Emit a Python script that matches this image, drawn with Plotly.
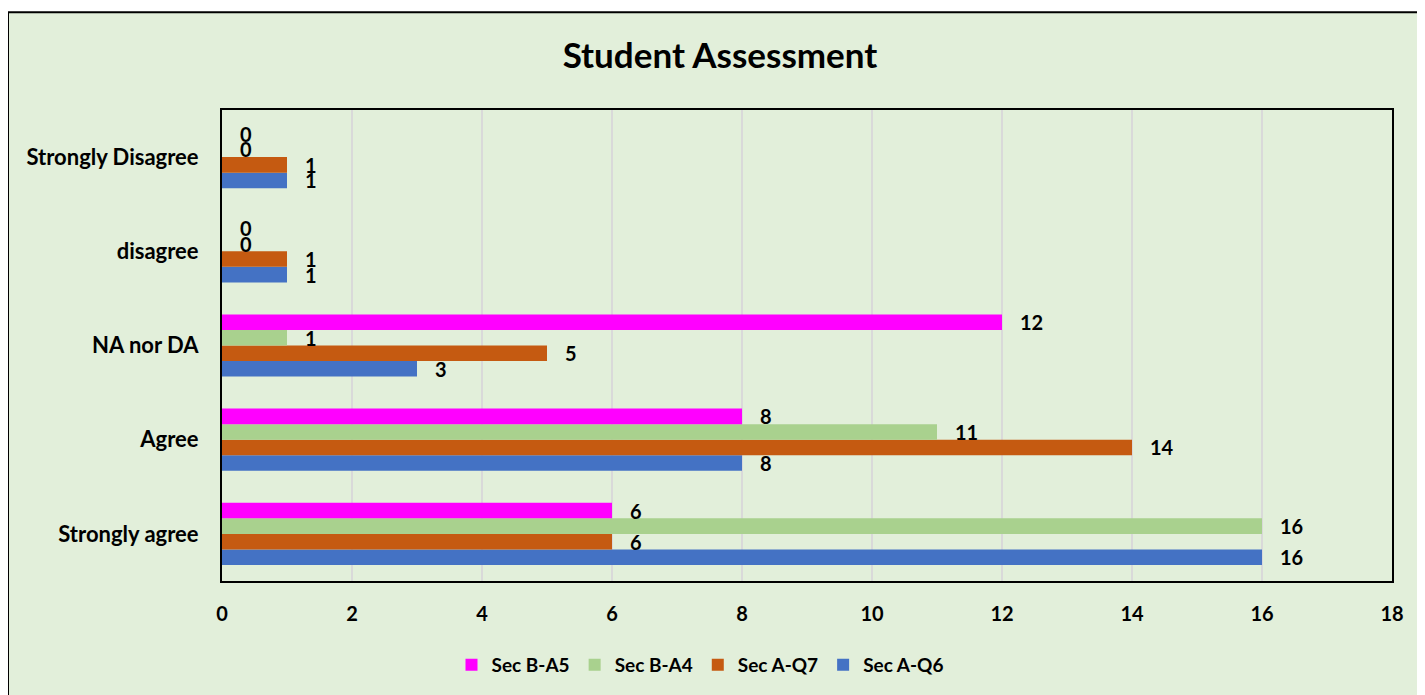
import plotly.graph_objects as go

categories = ["Strongly agree", "Agree", "NA nor DA", "disagree", "Strongly Disagree"]
sec_a_q6 = [16, 8, 3, 1, 1]
sec_a_q7 = [6, 14, 5, 1, 1]
sec_b_a4 = [16, 11, 1, 0, 0]
sec_b_a5 = [6, 8, 12, 0, 0]

series = [
    ("Sec A-Q6", sec_a_q6, "#4472C4"),
    ("Sec A-Q7", sec_a_q7, "#C55A11"),
    ("Sec B-A4", sec_b_a4, "#A9D18E"),
    ("Sec B-A5", sec_b_a5, "#FF00FF"),
]

FONT = "Lato"
OFF = 8  # page body margin
W, H = 1417, 687
L, R, T, B = 214, 33, 102, 113

fig = go.Figure()
for name, vals, color in series:
    fig.add_trace(go.Bar(
        y=categories, x=vals, name=name, orientation="h",
        marker=dict(color=color, line=dict(width=0)),
        text=vals, texttemplate="\u2003%{x}", textposition="outside",
        constraintext="none", cliponaxis=False,
        textfont=dict(family=FONT, size=20, color="black", weight="bold"),
    ))

pw = W - L - R
ph = H - T - B
fig.add_shape(type="rect", xref="paper", yref="paper", layer="below",
              x0=(0 - L) / pw, x1=(W + 10 - L) / pw,
              y0=(H - B - (H + 10)) / ph, y1=(H - B - 4) / ph,
              fillcolor="#E2EFDA", line=dict(color="black", width=2))

fig.update_layout(
    width=W, height=H,
    margin=dict(l=L, r=R, t=T, b=B, pad=0),
    paper_bgcolor="white", plot_bgcolor="white",
    barmode="group", bargap=0.34, bargroupgap=0,
    title=dict(text="<b>Student Assessment</b>", x=(720 - OFF - L) / pw, xref="paper",
               xanchor="center", y=1 - (56 - OFF) / H, yanchor="middle",
               font=dict(family=FONT, size=35, color="black")),
    font=dict(family=FONT, color="black"),
    xaxis=dict(range=[0, 18], dtick=2, showgrid=True, gridcolor="#D9D9D9", gridwidth=2,
               zeroline=False, showline=True, linecolor="black", linewidth=2, mirror=True,
               ticks="", ticklabelstandoff=14,
               tickfont=dict(family=FONT, size=20, color="black", weight="bold")),
    yaxis=dict(showline=True, linecolor="black", linewidth=2, mirror=True, ticks="",
               ticklabelstandoff=17,
               tickfont=dict(family=FONT, size=22, color="black", weight="bold")),
    legend=dict(orientation="h", traceorder="reversed", x=(700 - OFF - L) / pw, xanchor="center",
                y=-(665 - OFF - (H - B)) / ph, yanchor="middle", bgcolor="rgba(0,0,0,0)",
                font=dict(family=FONT, size=19, color="black", weight="bold"),
                itemwidth=30),
    showlegend=True,
)

fig.write_html("out.html")
